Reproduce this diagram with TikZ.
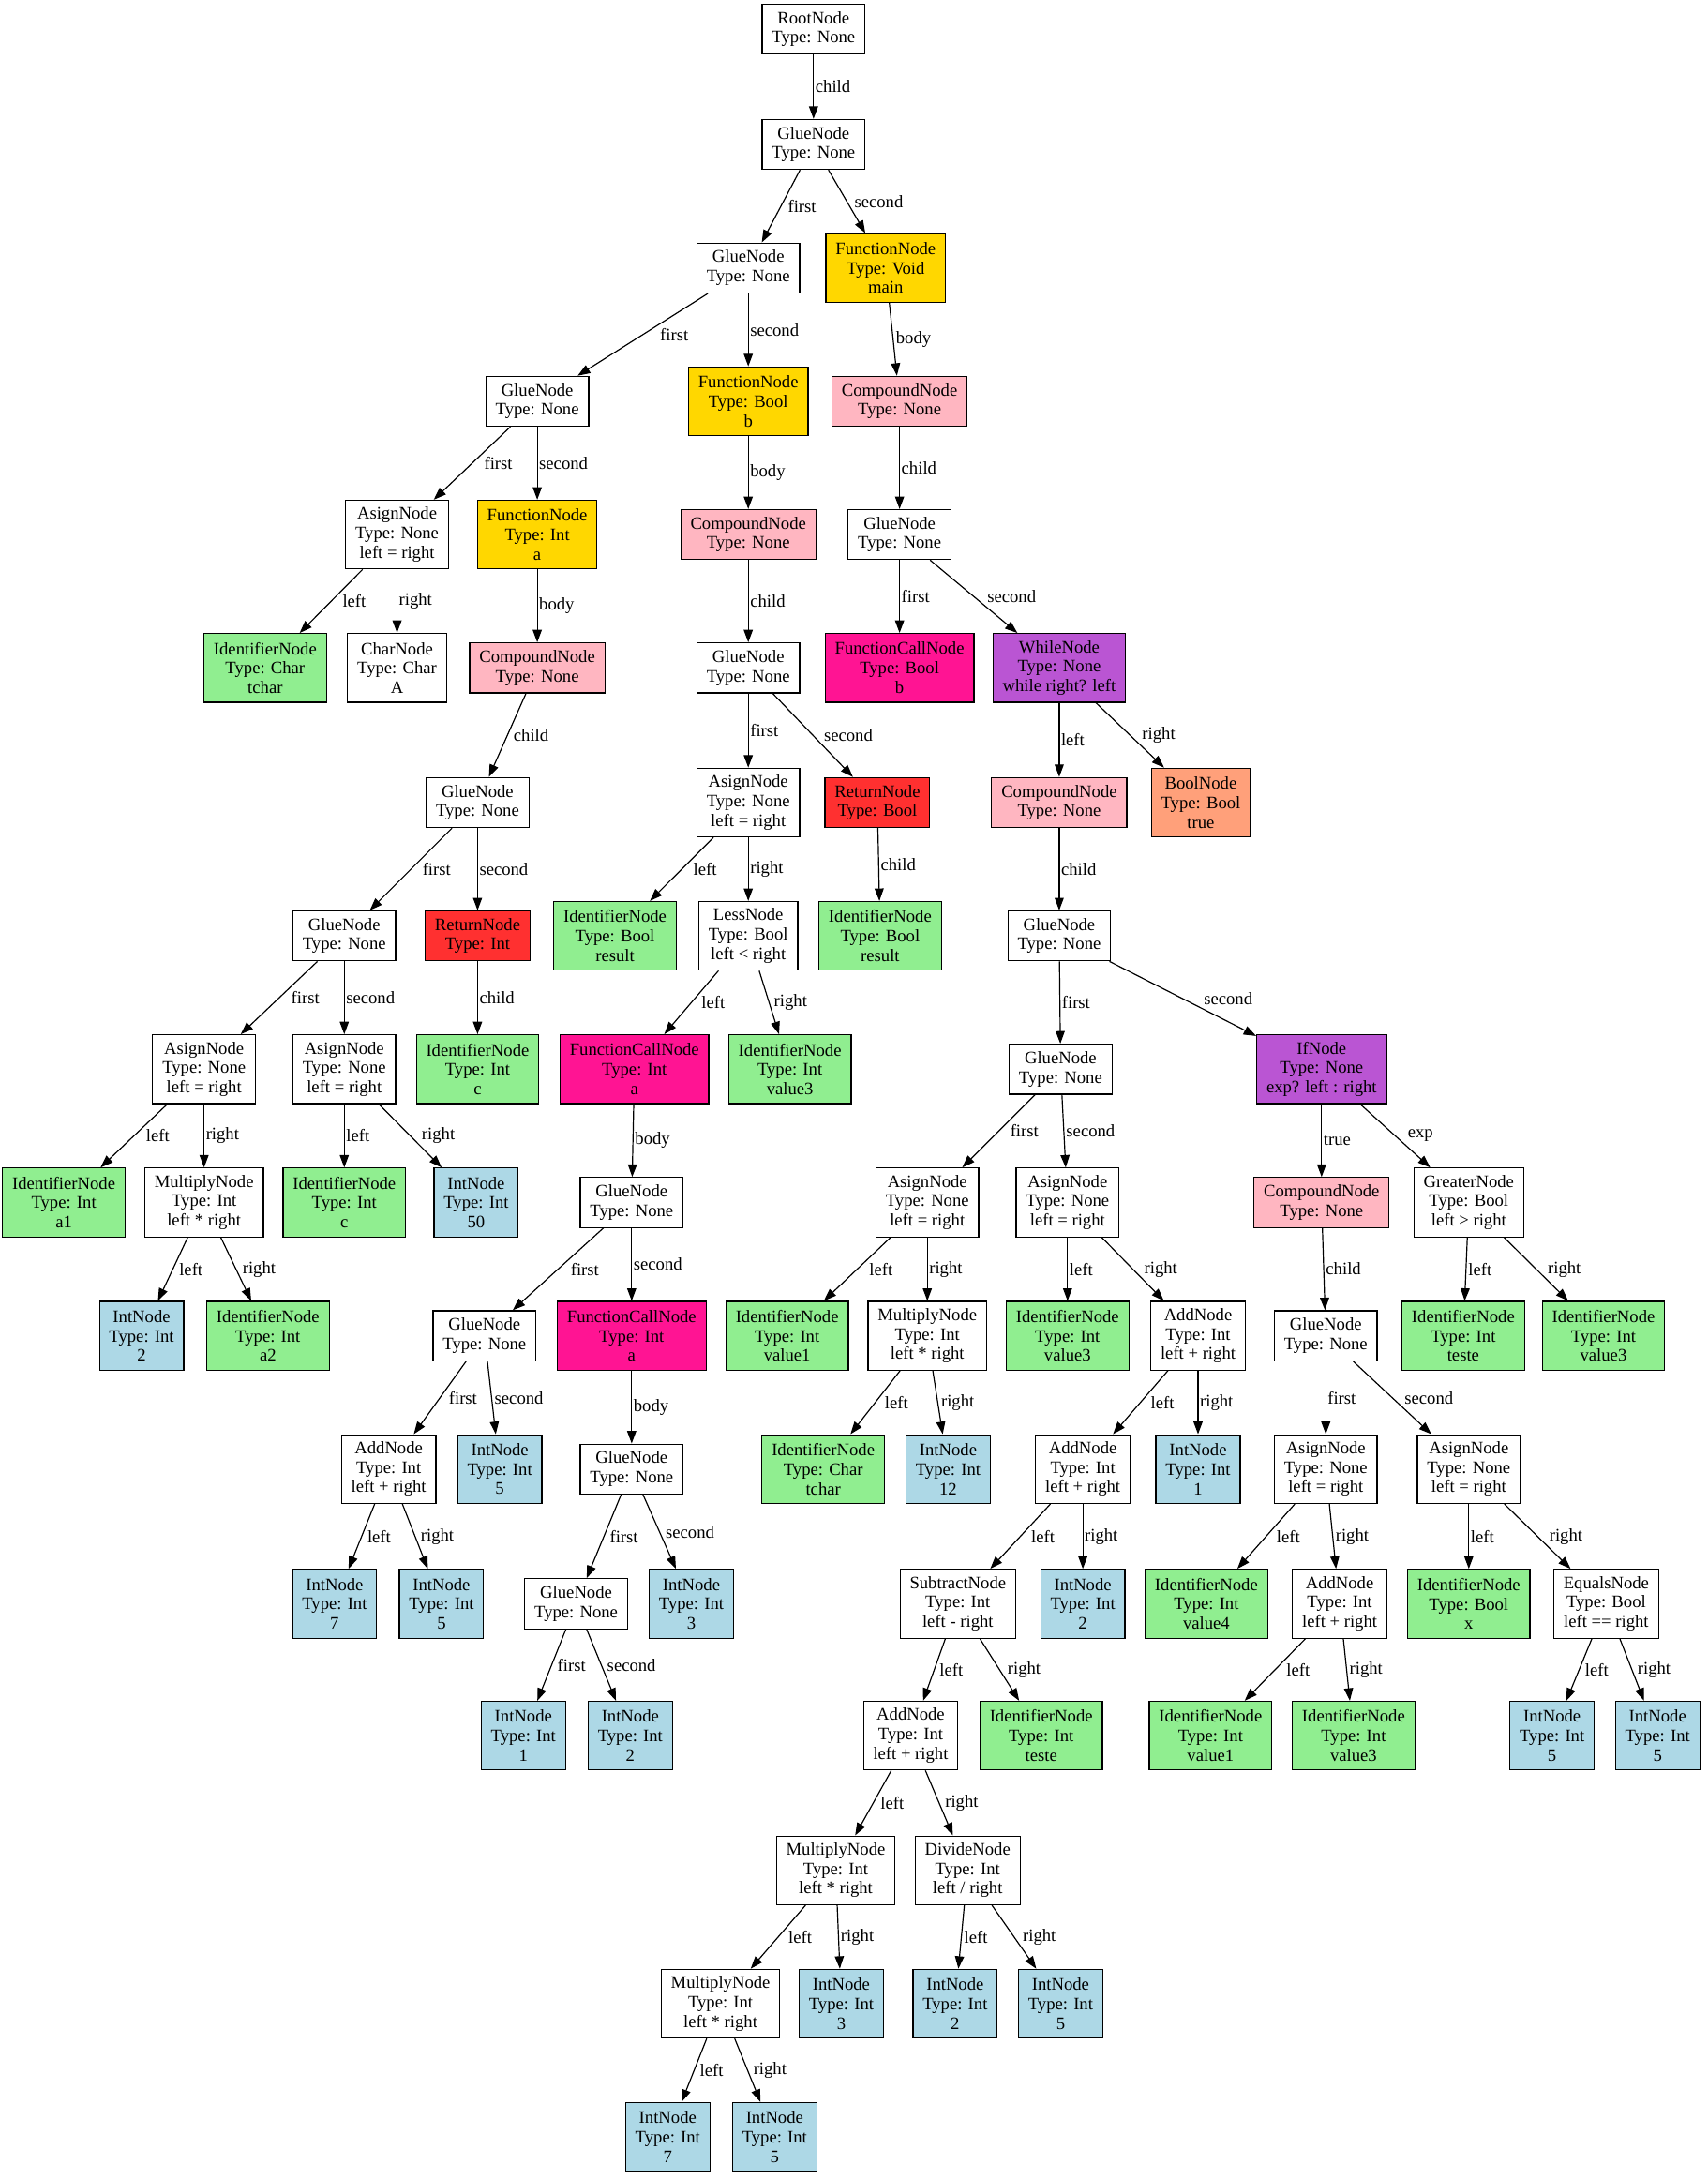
\documentclass[tikz,border=0pt]{standalone}
\usepackage{fontspec}
\setmainfont{Liberation Serif}
\usetikzlibrary{calc,arrows.meta}
\definecolor{cgold}{HTML}{FFD700}
\definecolor{cpink}{HTML}{FFB6C1}
\definecolor{cgreen}{HTML}{90EE90}
\definecolor{cblue}{HTML}{ADD8E6}
\definecolor{cdeep}{HTML}{FF1493}
\definecolor{corchid}{HTML}{BA55D3}
\definecolor{cred}{HTML}{FF3030}
\definecolor{csalmon}{HTML}{FFA07A}
\tikzset{
  base/.style={draw=black, line width=0.8pt, rectangle, align=center, inner xsep=7pt, inner ysep=0pt, minimum width=48.6pt, font=\fontsize{12.6}{14}\selectfont, fill=white},
  two/.style={base, minimum height=36pt},
  three/.style={base, minimum height=49.5pt},
  gold/.style={fill=cgold}, pink/.style={fill=cpink}, green/.style={fill=cgreen},
  blue/.style={fill=cblue}, deep/.style={fill=cdeep}, orchid/.style={fill=corchid},
  red/.style={fill=cred}, salmon/.style={fill=csalmon},
  arr/.style={line width=0.8pt, -{Triangle[length=9pt,width=6.5pt]}},
  lbl/.style={anchor=west, inner sep=0pt, font=\fontsize{12.6}{14}\selectfont}
}
\newcommand\tedge[3]{\draw[arr] let \p1=(#1.center), \p2=(#2.center), \n1={abs(\x2-\x1)/abs(\y2-\y1)} in (#1) -- (#2) node[lbl, midway, xshift={1pt+7pt*\n1}] {#3};}
\begin{document}
\begin{tikzpicture}[x=1pt,y=1pt]
\useasboundingbox (0,0) rectangle (1230,-1570);
\node[two] (root) at (586,-21) {RootNode\\Type: None};
\node[two] (g1) at (586,-104) {GlueNode\\Type: None};
\node[two] (g2) at (539,-193) {GlueNode\\Type: None};
\node[three,gold] (fmain) at (638,-193) {FunctionNode\\Type: Void\\main};
\node[two] (g3) at (387,-289) {GlueNode\\Type: None};
\node[three,gold] (fb) at (539,-289) {FunctionNode\\Type: Bool\\b};
\node[two,pink] (cmain) at (648,-289) {CompoundNode\\Type: None};
\node[three] (asg1) at (286,-385) {AsignNode\\Type: None\\left = right};
\node[three,gold] (fa) at (387,-385) {FunctionNode\\Type: Int\\a};
\node[two,pink] (cb) at (539,-385) {CompoundNode\\Type: None};
\node[two] (gm1) at (648,-385) {GlueNode\\Type: None};
\node[three,green] (idtchar) at (191,-481) {IdentifierNode\\Type: Char\\tchar};
\node[three] (charA) at (286,-481) {CharNode\\Type: Char\\A};
\node[two,pink] (ca) at (387,-481) {CompoundNode\\Type: None};
\node[two] (gb1) at (539,-481) {GlueNode\\Type: None};
\node[three,deep] (fcb) at (648,-481) {FunctionCallNode\\Type: Bool\\b};
\node[three,orchid] (wh) at (763,-481) {WhileNode\\Type: None\\while right? left};
\node[two] (ga1) at (344,-578) {GlueNode\\Type: None};
\node[three] (asgb) at (539,-578) {AsignNode\\Type: None\\left = right};
\node[two,red] (retb) at (632,-578) {ReturnNode\\Type: Bool};
\node[two,pink] (cw) at (763,-578) {CompoundNode\\Type: None};
\node[three,salmon] (bt) at (865,-578) {BoolNode\\Type: Bool\\true};
\node[two] (ga2) at (248,-674) {GlueNode\\Type: None};
\node[two,red] (reta) at (344,-674) {ReturnNode\\Type: Int};
\node[three,green] (idres1) at (443,-674) {IdentifierNode\\Type: Bool\\result};
\node[three] (less) at (539,-674) {LessNode\\Type: Bool\\left < right};
\node[three,green] (idres2) at (634,-674) {IdentifierNode\\Type: Bool\\result};
\node[two] (gw1) at (763,-674) {GlueNode\\Type: None};
\node[three] (asg2) at (147,-770) {AsignNode\\Type: None\\left = right};
\node[three] (asg3) at (248,-770) {AsignNode\\Type: None\\left = right};
\node[three,green] (idc1) at (344,-770) {IdentifierNode\\Type: Int\\c};
\node[three,deep] (fca1) at (457,-770) {FunctionCallNode\\Type: Int\\a};
\node[three,green] (idv3a) at (569,-770) {IdentifierNode\\Type: Int\\value3};
\node[two] (gw2) at (764,-770) {GlueNode\\Type: None};
\node[three,orchid] (ifn) at (952,-770) {IfNode\\Type: None\\exp? left : right};
\node[three,green] (ida1) at (46,-866) {IdentifierNode\\Type: Int\\a1};
\node[three] (mul1) at (147,-866) {MultiplyNode\\Type: Int\\left * right};
\node[three,green] (idc2) at (248,-866) {IdentifierNode\\Type: Int\\c};
\node[three,blue] (int50) at (343,-866) {IntNode\\Type: Int\\50};
\node[two] (gfa1) at (455,-866) {GlueNode\\Type: None};
\node[three] (asg4) at (668,-866) {AsignNode\\Type: None\\left = right};
\node[three] (asg5) at (769,-866) {AsignNode\\Type: None\\left = right};
\node[two,pink] (cif) at (952,-866) {CompoundNode\\Type: None};
\node[three] (greater) at (1058,-866) {GreaterNode\\Type: Bool\\left > right};
\node[three,blue] (int2a) at (102,-962) {IntNode\\Type: Int\\2};
\node[three,green] (ida2) at (193,-962) {IdentifierNode\\Type: Int\\a2};
\node[two] (gfa2) at (349,-962) {GlueNode\\Type: None};
\node[three,deep] (fca2) at (455,-962) {FunctionCallNode\\Type: Int\\a};
\node[three,green] (idv1a) at (567,-962) {IdentifierNode\\Type: Int\\value1};
\node[three] (mul2) at (668,-962) {MultiplyNode\\Type: Int\\left * right};
\node[three,green] (idv3b) at (769,-962) {IdentifierNode\\Type: Int\\value3};
\node[three] (add1) at (863,-962) {AddNode\\Type: Int\\left + right};
\node[two] (gif1) at (955,-962) {GlueNode\\Type: None};
\node[three,green] (idteste1) at (1054,-962) {IdentifierNode\\Type: Int\\teste};
\node[three,green] (idv3c) at (1155,-962) {IdentifierNode\\Type: Int\\value3};
\node[three] (add2) at (280,-1058) {AddNode\\Type: Int\\left + right};
\node[three,blue] (int5a) at (360,-1058) {IntNode\\Type: Int\\5};
\node[two] (gfa3) at (455,-1058) {GlueNode\\Type: None};
\node[three,green] (idtchar2) at (593,-1058) {IdentifierNode\\Type: Char\\tchar};
\node[three,blue] (int12) at (683,-1058) {IntNode\\Type: Int\\12};
\node[three] (add3) at (780,-1058) {AddNode\\Type: Int\\left + right};
\node[three,blue] (int1a) at (863,-1058) {IntNode\\Type: Int\\1};
\node[three] (asg6) at (955,-1058) {AsignNode\\Type: None\\left = right};
\node[three] (asg7) at (1058,-1058) {AsignNode\\Type: None\\left = right};
\node[three,blue] (int7a) at (241,-1155) {IntNode\\Type: Int\\7};
\node[three,blue] (int5b) at (318,-1155) {IntNode\\Type: Int\\5};
\node[two] (gfa4) at (415,-1155) {GlueNode\\Type: None};
\node[three,blue] (int3a) at (498,-1155) {IntNode\\Type: Int\\3};
\node[three] (sub) at (690,-1155) {SubtractNode\\Type: Int\\left - right};
\node[three,blue] (int2b) at (780,-1155) {IntNode\\Type: Int\\2};
\node[three,green] (idv4) at (869,-1155) {IdentifierNode\\Type: Int\\value4};
\node[three] (add4) at (965,-1155) {AddNode\\Type: Int\\left + right};
\node[three,green] (idx) at (1058,-1155) {IdentifierNode\\Type: Bool\\x};
\node[three] (eq) at (1157,-1155) {EqualsNode\\Type: Bool\\left == right};
\node[three,blue] (int1b) at (377,-1250) {IntNode\\Type: Int\\1};
\node[three,blue] (int2c) at (454,-1250) {IntNode\\Type: Int\\2};
\node[three] (add5) at (656,-1250) {AddNode\\Type: Int\\left + right};
\node[three,green] (idteste2) at (750,-1250) {IdentifierNode\\Type: Int\\teste};
\node[three,green] (idv1b) at (872,-1250) {IdentifierNode\\Type: Int\\value1};
\node[three,green] (idv3d) at (975,-1250) {IdentifierNode\\Type: Int\\value3};
\node[three,blue] (int5c) at (1118,-1250) {IntNode\\Type: Int\\5};
\node[three,blue] (int5d) at (1194,-1250) {IntNode\\Type: Int\\5};
\node[three] (mul3) at (602,-1347) {MultiplyNode\\Type: Int\\left * right};
\node[three] (dvd) at (697,-1347) {DivideNode\\Type: Int\\left / right};
\node[three] (mul4) at (519,-1443) {MultiplyNode\\Type: Int\\left * right};
\node[three,blue] (int3b) at (606,-1443) {IntNode\\Type: Int\\3};
\node[three,blue] (int2d) at (688,-1443) {IntNode\\Type: Int\\2};
\node[three,blue] (int5e) at (764,-1443) {IntNode\\Type: Int\\5};
\node[three,blue] (int7b) at (481,-1539) {IntNode\\Type: Int\\7};
\node[three,blue] (int5f) at (558,-1539) {IntNode\\Type: Int\\5};
\tedge{root}{g1}{child}
\tedge{g1}{g2}{first}
\tedge{g1}{fmain}{second}
\tedge{g2}{g3}{first}
\tedge{g2}{fb}{second}
\tedge{fmain}{cmain}{body}
\tedge{g3}{asg1}{first}
\tedge{g3}{fa}{second}
\tedge{fb}{cb}{body}
\tedge{cmain}{gm1}{child}
\tedge{asg1}{idtchar}{left}
\tedge{asg1}{charA}{right}
\tedge{fa}{ca}{body}
\tedge{cb}{gb1}{child}
\tedge{gm1}{fcb}{first}
\tedge{gm1}{wh}{second}
\tedge{ca}{ga1}{child}
\tedge{gb1}{asgb}{first}
\tedge{gb1}{retb}{second}
\tedge{wh}{cw}{left}
\tedge{wh}{bt}{right}
\tedge{ga1}{ga2}{first}
\tedge{ga1}{reta}{second}
\tedge{asgb}{idres1}{left}
\tedge{asgb}{less}{right}
\tedge{retb}{idres2}{child}
\tedge{cw}{gw1}{child}
\tedge{ga2}{asg2}{first}
\tedge{ga2}{asg3}{second}
\tedge{reta}{idc1}{child}
\tedge{less}{fca1}{left}
\tedge{less}{idv3a}{right}
\tedge{gw1}{gw2}{first}
\tedge{gw1}{ifn}{second}
\tedge{asg2}{ida1}{left}
\tedge{asg2}{mul1}{right}
\tedge{asg3}{idc2}{left}
\tedge{asg3}{int50}{right}
\tedge{fca1}{gfa1}{body}
\tedge{gw2}{asg4}{first}
\tedge{gw2}{asg5}{second}
\tedge{ifn}{cif}{true}
\tedge{ifn}{greater}{exp}
\tedge{mul1}{int2a}{left}
\tedge{mul1}{ida2}{right}
\tedge{gfa1}{gfa2}{first}
\tedge{gfa1}{fca2}{second}
\tedge{asg4}{idv1a}{left}
\tedge{asg4}{mul2}{right}
\tedge{asg5}{idv3b}{left}
\tedge{asg5}{add1}{right}
\tedge{cif}{gif1}{child}
\tedge{greater}{idteste1}{left}
\tedge{greater}{idv3c}{right}
\tedge{gfa2}{add2}{first}
\tedge{gfa2}{int5a}{second}
\tedge{fca2}{gfa3}{body}
\tedge{mul2}{idtchar2}{left}
\tedge{mul2}{int12}{right}
\tedge{add1}{add3}{left}
\tedge{add1}{int1a}{right}
\tedge{gif1}{asg6}{first}
\tedge{gif1}{asg7}{second}
\tedge{add2}{int7a}{left}
\tedge{add2}{int5b}{right}
\tedge{gfa3}{gfa4}{first}
\tedge{gfa3}{int3a}{second}
\tedge{add3}{sub}{left}
\tedge{add3}{int2b}{right}
\tedge{asg6}{idv4}{left}
\tedge{asg6}{add4}{right}
\tedge{asg7}{idx}{left}
\tedge{asg7}{eq}{right}
\tedge{gfa4}{int1b}{first}
\tedge{gfa4}{int2c}{second}
\tedge{sub}{add5}{left}
\tedge{sub}{idteste2}{right}
\tedge{add4}{idv1b}{left}
\tedge{add4}{idv3d}{right}
\tedge{eq}{int5c}{left}
\tedge{eq}{int5d}{right}
\tedge{add5}{mul3}{left}
\tedge{add5}{dvd}{right}
\tedge{mul3}{mul4}{left}
\tedge{mul3}{int3b}{right}
\tedge{dvd}{int2d}{left}
\tedge{dvd}{int5e}{right}
\tedge{mul4}{int7b}{left}
\tedge{mul4}{int5f}{right}
\end{tikzpicture}
\end{document}
